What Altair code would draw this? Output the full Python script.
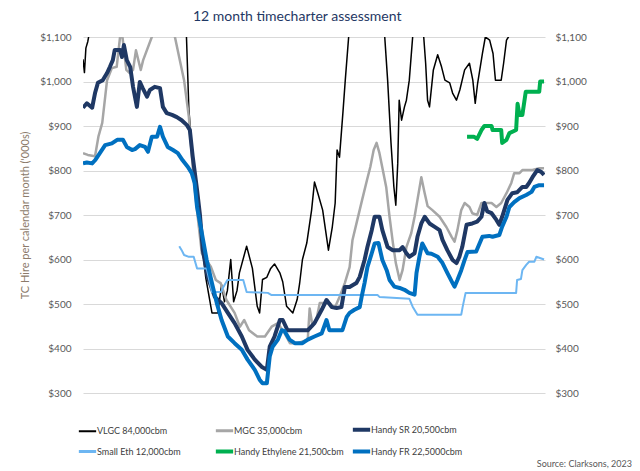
import altair as alt
import pandas as pd

# ---------------- data ----------------
series_names = ["VLGC 84,000cbm", "MGC 35,000cbm", "Handy SR 20,500cbm",
                "Small Eth 12,000cbm", "Handy Ethylene 21,500cbm", "Handy FR 22,5000cbm"]
series_colors = ["#000000", "#A6A6A6", "#1F3864", "#6DB6F2", "#00B050", "#0070C0"]
series_widths = [1.5, 2.5, 4, 2, 4, 4]
legend_widths = [2, 3, 4, 3, 4, 4]

vlgc_x = [2014.0, 2014.03, 2014.06, 2014.1, 2014.15, 2014.5, 2015.0, 2015.5, 2016.0, 2016.12, 2016.15,
          2016.2, 2016.3, 2016.45, 2016.55, 2016.68, 2016.8, 2016.88, 2016.94, 2017.0, 2017.07, 2017.13,
          2017.2, 2017.25, 2017.4, 2017.52, 2017.62, 2017.67, 2017.73, 2017.82, 2017.9, 2017.98, 2018.09,
          2018.15, 2018.23, 2018.36, 2018.45, 2018.5, 2018.56, 2018.65, 2018.75, 2018.81, 2018.88, 2018.98,
          2019.1, 2019.18, 2019.24, 2019.28, 2019.33, 2019.4, 2019.45, 2019.52, 2019.7, 2019.9, 2020.1,
          2020.27, 2020.33, 2020.4, 2020.46, 2020.5, 2020.54, 2020.57, 2020.62, 2020.68, 2020.72, 2020.78,
          2020.85, 2020.95, 2021.08, 2021.12, 2021.16, 2021.2, 2021.28, 2021.37, 2021.45, 2021.52, 2021.62,
          2021.68, 2021.76, 2021.83, 2021.93, 2022.03, 2022.1, 2022.15, 2022.2, 2022.3, 2022.36, 2022.45,
          2022.52, 2022.57, 2022.69, 2022.74, 2022.8, 2022.84, 2023.0, 2023.3, 2023.58]
vlgc_y = [1050, 1020, 1075, 1090, 1120, 1450, 1600, 1500, 1350, 1150, 1100,
          937, 800, 660, 560, 480, 480, 543, 505, 530, 600, 505,
          530, 570, 630, 580, 495, 480, 555, 560, 580, 590, 570,
          550, 495, 480, 510, 545, 600, 637, 711, 774, 749, 711,
          621, 673, 727, 846, 830, 929, 1003, 1100, 1250, 1400, 1250,
          1100, 1003, 862, 763, 722, 816, 958, 913, 943, 958, 1003,
          1100, 1150, 1100, 1041, 958, 943, 1026, 1060, 1033, 1003, 997,
          974, 958, 981, 1026, 1041, 1003, 951, 996, 1063, 1100, 1093,
          1063, 1003, 1003, 1041, 1093, 1100, 1200, 1250, 1250]

mgc_x = [2014.0, 2014.1, 2014.25, 2014.32, 2014.4, 2014.5, 2014.6, 2014.7, 2014.77, 2014.82, 2014.9,
         2014.97, 2015.04, 2015.1, 2015.2, 2015.25, 2015.43, 2015.6, 2015.8, 2015.91, 2016.1, 2016.2,
         2016.3, 2016.4, 2016.47, 2016.66, 2016.76, 2016.86, 2016.98, 2017.15, 2017.26, 2017.35, 2017.45,
         2017.62, 2017.78, 2017.92, 2018.05, 2018.19, 2018.3, 2018.46, 2018.67, 2018.71, 2018.77, 2018.86,
         2018.92, 2019.13, 2019.23, 2019.33, 2019.44, 2019.54, 2019.6, 2019.7, 2019.8, 2019.9, 2019.97,
         2020.04, 2020.1, 2020.16, 2020.23, 2020.3, 2020.37, 2020.44, 2020.5, 2020.58, 2020.64, 2020.72,
         2020.82, 2020.89, 2020.95, 2021.03, 2021.1, 2021.16, 2021.26, 2021.41, 2021.55, 2021.66, 2021.72,
         2021.78, 2021.86, 2021.93, 2022.03, 2022.09, 2022.19, 2022.28, 2022.38, 2022.49, 2022.59, 2022.69,
         2022.8, 2022.9, 2022.96, 2023.07, 2023.13, 2023.34, 2023.48, 2023.58]
mgc_y = [839, 835, 832, 876, 907, 1003, 1030, 1033, 1100, 1100, 1026,
         1019, 1026, 1070, 1026, 1048, 1100, 1200, 1200, 1100, 1003, 920,
         780, 680, 614, 583, 554, 547, 509, 480, 449, 464, 441,
         427, 427, 449, 457, 434, 412, 412, 420, 490, 450, 470,
         502, 502, 491, 516, 547, 583, 644, 689, 734, 778, 808,
         846, 862, 839, 801, 763, 696, 637, 592, 554, 576, 628,
         659, 696, 734, 785, 749, 720, 711, 696, 673, 651, 640,
         666, 711, 727, 718, 704, 700, 727, 727, 727, 718, 727,
         749, 772, 794, 794, 801, 801, 805, 805]

sr_x = [2014.0, 2014.08, 2014.19, 2014.25, 2014.31, 2014.41, 2014.5, 2014.56, 2014.62, 2014.66, 2014.77,
        2014.81, 2014.85, 2014.91, 2014.98, 2015.04, 2015.12, 2015.18, 2015.24, 2015.33, 2015.39, 2015.49,
        2015.6, 2015.66, 2015.74, 2015.85, 2015.95, 2016.05, 2016.16, 2016.22, 2016.28, 2016.37, 2016.43,
        2016.49, 2016.59, 2016.74, 2016.88, 2017.01, 2017.15, 2017.3, 2017.42, 2017.57, 2017.71, 2017.82,
        2017.88, 2017.98, 2018.09, 2018.15, 2018.25, 2018.4, 2018.67, 2018.81, 2018.96, 2019.06, 2019.17,
        2019.27, 2019.37, 2019.44, 2019.54, 2019.68, 2019.75, 2019.85, 2019.91, 2020.0, 2020.06, 2020.16,
        2020.22, 2020.33, 2020.43, 2020.58, 2020.64, 2020.72, 2020.78, 2020.89, 2020.95, 2021.03, 2021.1,
        2021.2, 2021.3, 2021.41, 2021.47, 2021.57, 2021.68, 2021.76, 2021.82, 2021.88, 2021.97, 2022.09,
        2022.19, 2022.28, 2022.34, 2022.4, 2022.49, 2022.59, 2022.65, 2022.71, 2022.82, 2022.92, 2023.02,
        2023.13, 2023.21, 2023.27, 2023.34, 2023.44, 2023.52, 2023.58]
sr_y = [941, 951, 941, 974, 997, 1003, 1019, 1033, 1048, 1071, 1071,
        1055, 1082, 1048, 1033, 988, 943, 999, 985, 966, 981, 988,
        985, 943, 929, 925, 920, 913, 902, 891, 831, 756, 700,
        621, 561, 516, 502, 480, 457, 427, 397, 375, 359, 352,
        404, 427, 464, 464, 441, 441, 441, 457, 487, 509, 493,
        491, 493, 538, 538, 547, 561, 599, 628, 666, 696, 696,
        666, 628, 621, 621, 628, 614, 606, 614, 651, 681, 696,
        681, 674, 666, 644, 621, 599, 592, 606, 628, 678, 681,
        685, 696, 727, 708, 704, 689, 678, 696, 734, 749, 751,
        763, 763, 772, 785, 801, 797, 790]

eth_x = [2016.0, 2016.05, 2016.1, 2016.2, 2016.3, 2016.37, 2016.57, 2016.68, 2016.87, 2016.9, 2017.0,
         2017.33, 2017.4, 2017.84, 2017.92, 2020.12, 2020.16, 2020.43, 2020.78, 2020.85, 2020.95, 2021.86,
         2021.89, 2021.95, 2023.0, 2023.02, 2023.1, 2023.13, 2023.21, 2023.27, 2023.38, 2023.42, 2023.48,
         2023.58]
eth_y = [630, 621, 610, 606, 606, 580, 580, 527, 527, 535, 554,
         554, 527, 525, 520, 520, 516, 514, 512, 494, 476, 476,
         494, 525, 525, 554, 556, 576, 588, 595, 595, 606, 604,
         600]

ethylene_x = [2021.98, 2022.12, 2022.19, 2022.28, 2022.34, 2022.49, 2022.51, 2022.69, 2022.71, 2022.8,
              2022.86, 2023.0, 2023.03, 2023.07, 2023.13, 2023.2, 2023.48, 2023.5, 2023.58]
ethylene_y = [876, 876, 871, 891, 900, 900, 891, 891, 862, 869,
              884, 891, 950, 925, 925, 977, 977, 1000, 1000]

fr_x = [2014.0, 2014.08, 2014.19, 2014.25, 2014.35, 2014.46, 2014.6, 2014.71, 2014.83, 2014.91, 2015.02,
        2015.08, 2015.18, 2015.29, 2015.35, 2015.43, 2015.54, 2015.6, 2015.66, 2015.76, 2015.87, 2015.97,
        2016.07, 2016.18, 2016.26, 2016.32, 2016.37, 2016.47, 2016.57, 2016.68, 2016.78, 2016.88, 2017.01,
        2017.15, 2017.3, 2017.42, 2017.57, 2017.67, 2017.73, 2017.82, 2017.88, 2017.94, 2018.05, 2018.13,
        2018.19, 2018.29, 2018.4, 2018.56, 2018.67, 2018.81, 2018.96, 2019.06, 2019.12, 2019.27, 2019.39,
        2019.48, 2019.54, 2019.64, 2019.75, 2019.79, 2019.85, 2019.91, 2020.0, 2020.06, 2020.14, 2020.22,
        2020.31, 2020.37, 2020.47, 2020.58, 2020.68, 2020.78, 2020.89, 2020.93, 2020.99, 2021.05, 2021.16,
        2021.24, 2021.37, 2021.47, 2021.57, 2021.68, 2021.72, 2021.78, 2021.86, 2021.93, 2021.99, 2022.17,
        2022.24, 2022.3, 2022.44, 2022.51, 2022.65, 2022.71, 2022.8, 2022.86, 2022.96, 2023.07, 2023.21,
        2023.32, 2023.38, 2023.48, 2023.58]
fr_y = [816, 818, 816, 823, 839, 857, 861, 869, 869, 853, 846,
        848, 857, 853, 842, 876, 876, 898, 876, 853, 846, 839,
        823, 808, 794, 772, 718, 659, 599, 547, 502, 464, 427,
        412, 397, 375, 352, 330, 322, 322, 382, 404, 420, 441,
        439, 420, 412, 412, 420, 427, 434, 464, 441, 441, 441,
        471, 480, 487, 493, 516, 547, 583, 614, 636, 637, 599,
        576, 554, 539, 536, 532, 525, 521, 570, 606, 636, 614,
        613, 606, 592, 570, 547, 539, 554, 576, 599, 617, 618,
        636, 651, 653, 651, 655, 674, 696, 718, 729, 738, 745,
        752, 763, 767, 767]

year_ticks = list(range(2014, 2024))
value_ticks = list(range(300, 1101, 100))

# ---------------- table ----------------
frames = []
for name, xs, ys in [
    (series_names[0], vlgc_x, vlgc_y),
    (series_names[1], mgc_x, mgc_y),
    (series_names[2], sr_x, sr_y),
    (series_names[3], eth_x, eth_y),
    (series_names[4], ethylene_x, ethylene_y),
    (series_names[5], fr_x, fr_y),
]:
    frames.append(pd.DataFrame({"year": xs, "value": ys, "series": name}))
df = pd.concat(frames, ignore_index=True)
df["order"] = df.index

FONT = "Lato"
x_scale = alt.Scale(domain=[2014, 2023.6], nice=False, zero=False)
y_scale = alt.Scale(domain=[300, 1100], nice=False, zero=False)

# legend symbol widths per series (expression built from the lists)
width_expr = " : ".join(
    f"datum && datum.value === '{n}' ? {w}" for n, w in zip(series_names, legend_widths)
) + " : 3"

legend = alt.Legend(
    title=None, orient="none", legendX=0, legendY=388, columns=3, direction="horizontal",
    symbolType="stroke", symbolSize=300, symbolStrokeWidth=alt.ExprRef(expr=width_expr),
    labelFont=FONT, labelFontSize=9, labelColor="#404040", labelOffset=5, columnPadding=0,
    rowPadding=5, labelLimit=200, gridAlign="all",
)

base = alt.Chart(df).encode(
    x=alt.X("year:Q", scale=x_scale,
            axis=alt.Axis(values=year_ticks, format="d", title=None, grid=False,
                          domainColor="#D9D9D9", tickColor="#D9D9D9", tickSize=4,
                          labelPadding=3, labelFontSize=10, labelColor="#595959",
                          labelFont=FONT)),
    y=alt.Y("value:Q", scale=y_scale,
            axis=alt.Axis(values=value_ticks, format="$,d", grid=True, gridColor="#D9D9D9",
                          domain=False, ticks=False, labelPadding=12, labelFontSize=10,
                          labelColor="#595959", labelFont=FONT,
                          title="TC Hire per calendar month ('000s)", titleFont=FONT,
                          titleFontSize=11, titleFontWeight="normal", titleColor="#8C7B6B",
                          titlePadding=9)),
    color=alt.Color("series:N", scale=alt.Scale(domain=series_names, range=series_colors),
                    legend=legend),
    order="order:Q",
)

series_layers = [
    base.transform_filter(alt.datum.series == name).mark_line(
        clip=True, strokeWidth=w, strokeJoin="round")
    for name, w in zip(series_names, series_widths)
]
lines = alt.layer(*series_layers)

right_axis = alt.Chart(df).mark_line(clip=True, opacity=0).encode(
    x=alt.X("year:Q", scale=x_scale, axis=None),
    y=alt.Y("value:Q", scale=y_scale,
            axis=alt.Axis(orient="right", values=value_ticks, format="$,d", grid=False,
                          domain=False, ticks=False, labelPadding=10, labelFontSize=10,
                          labelColor="#595959", labelFont=FONT, title=None)),
    detail="series:N",
)

source = alt.Chart(pd.DataFrame({"t": ["Source: Clarksons, 2023"]})).mark_text(
    align="right", baseline="middle", font=FONT, fontSize=9, color="#595959"
).encode(x=alt.value(549), y=alt.value(427), text="t:N")

chart = alt.layer(lines, right_axis, source).resolve_scale(y="independent").properties(
    width=462, height=356,
    title=alt.TitleParams("12 month timecharter assessment", anchor="start", frame="group",
                          dx=110, fontSize=14, font=FONT, fontWeight="normal",
                          color="#1F3864", offset=8),
    autosize=alt.AutoSizeParams(type="none"),
    padding={"left": 75, "top": 29, "right": 87, "bottom": 76},
).configure_view(stroke=None)

chart.save("out.html", embed_options={"renderer": "svg", "actions": False})
